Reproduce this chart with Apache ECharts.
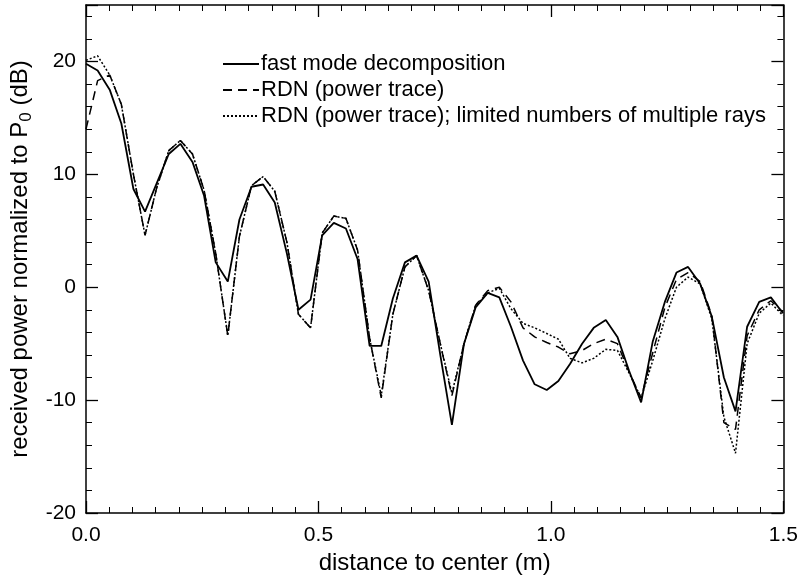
<!DOCTYPE html>
<html>
<head>
<meta charset="utf-8">
<script src="https://cdn.jsdelivr.net/npm/echarts@6/dist/echarts.min.js"></script>
<style>
  html, body {margin: 0; padding: 0; background: #fff;}
  #chart {width: 801px; height: 580px;}
</style>
</head>
<body>
<div id="chart"></div>
<script>
// sample positions along the distance axis (m)
const distance = [0, 0.025, 0.051, 0.076, 0.102, 0.127, 0.152, 0.178, 0.203, 0.229,
  0.254, 0.279, 0.305, 0.330, 0.356, 0.381, 0.406, 0.432, 0.457, 0.483,
  0.508, 0.533, 0.559, 0.584, 0.610, 0.635, 0.660, 0.686, 0.711, 0.737,
  0.762, 0.787, 0.813, 0.838, 0.864, 0.889, 0.914, 0.940, 0.965, 0.991,
  1.016, 1.041, 1.067, 1.092, 1.118, 1.143, 1.168, 1.194, 1.219, 1.245,
  1.270, 1.295, 1.321, 1.346, 1.372, 1.397, 1.422, 1.448, 1.473, 1.499]

// received power (dB)
const fastMode = [19.8, 19.2, 17.5, 14.5, 8.7, 6.7, 9.2, 11.8, 12.7, 11.1,
  8.1, 2.2, 0.5, 6.0, 8.9, 9.1, 7.5, 3.0, -2.0, -1.1,
  4.6, 5.7, 5.2, 2.5, -5.2, -5.2, -1.0, 2.2, 2.8, 0.5,
  -6.0, -12.2, -5.0, -1.8, -0.5, -0.9, -3.5, -6.5, -8.6, -9.1,
  -8.3, -6.8, -5.0, -3.6, -2.9, -4.4, -7.4, -10.2, -4.8, -1.3,
  1.3, 1.8, 0.3, -2.6, -8.0, -11.0, -3.5, -1.3, -0.9, -2.3]

const rdnPower = [14.0, 18.3, 18.8, 16.2, 10.0, 4.6, 8.8, 12.1, 13.0, 11.8,
  8.6, 3.0, -4.3, 4.5, 9.0, 9.8, 8.5, 4.0, -2.4, -3.6,
  4.8, 6.3, 6.1, 3.3, -4.5, -9.8, -2.4, 1.8, 2.8, -0.3,
  -5.0, -9.6, -5.0, -1.6, -0.3, 0.0, -1.3, -3.6, -4.4, -4.9,
  -5.3, -5.9, -5.6, -5.0, -4.6, -5.0, -7.5, -9.8, -5.8, -1.8,
  0.7, 1.3, 0.5, -2.5, -12.0, -12.6, -4.3, -2.0, -1.2, -2.2]

const rdnLimited = [20.1, 20.5, 18.8, 16.2, 10.0, 4.6, 8.8, 12.1, 13.0, 11.8,
  8.6, 3.0, -4.3, 4.5, 9.0, 9.8, 8.5, 4.0, -2.4, -3.6,
  4.8, 6.3, 6.1, 3.3, -4.5, -9.6, -2.4, 1.8, 2.8, -0.3,
  -5.0, -9.4, -5.0, -1.6, -0.5, -0.1, -1.9, -3.2, -3.6, -4.1,
  -4.6, -6.3, -6.7, -6.3, -5.5, -5.6, -7.6, -9.8, -6.5, -2.8,
  0.0, 0.9, 0.3, -2.8, -11.5, -14.7, -5.0, -2.3, -1.4, -2.5]

const seriesNames = ['fast mode decomposition', 'RDN (power trace)',
  'RDN (power trace); limited numbers of multiple rays']

const font = 'Liberation Sans'
const pairs = (ys) => distance.map((d, i) => [d, ys[i]])

const tickBits = {
  axisLine: {show: true, onZero: false, lineStyle: {color: '#000', width: 1.5}},
  axisTick: {show: true, inside: true, length: 12, lineStyle: {color: '#000', width: 1.3}},
  minorTick: {show: true, length: 6, lineStyle: {color: '#000', width: 1}},
  splitLine: {show: false}
}

const myChart = echarts.init(document.getElementById('chart'))
myChart.setOption({
  backgroundColor: '#fff',
  animation: false,
  grid: {left: 86, right: 13, top: 5, bottom: 67},
  legend: {
    left: 217, top: 48, orient: 'vertical',
    itemWidth: 36, itemHeight: 14, itemGap: 4,
    itemStyle: {opacity: 0},
    textStyle: {fontFamily: font, fontSize: 22, color: '#000', padding: [0, 0, 0, -3]},
    data: seriesNames
  },
  xAxis: [
    Object.assign({
      type: 'value', min: 0, max: 1.5, interval: 0.5,
      name: 'distance to center (m)', nameLocation: 'middle', nameGap: 36,
      nameTextStyle: {fontFamily: font, fontSize: 24, color: '#000'},
      axisLabel: {fontFamily: font, fontSize: 21, color: '#000', margin: 12,
        formatter: (v) => v.toFixed(1)}
    }, tickBits, {minorTick: Object.assign({}, tickBits.minorTick, {splitNumber: 10})}),
    Object.assign({
      type: 'value', min: 0, max: 1.5, interval: 0.5, position: 'top',
      axisLabel: {show: false}
    }, tickBits, {minorTick: Object.assign({}, tickBits.minorTick, {splitNumber: 10})})
  ],
  yAxis: [
    Object.assign({
      type: 'value', min: -20, max: 25, interval: 10,
      name: '{t|received power normalized to P}{s|0}{t| (dB)}',
      nameLocation: 'middle', nameGap: 46,
      nameTextStyle: {
        rich: {
          t: {fontFamily: font, fontSize: 24, color: '#000'},
          s: {fontFamily: font, fontSize: 17, color: '#000', padding: [12, 0, 0, 0]}
        }
      },
      axisLabel: {fontFamily: font, fontSize: 21, color: '#000', margin: 10, showMaxLabel: false}
    }, tickBits, {minorTick: Object.assign({}, tickBits.minorTick, {splitNumber: 5})}),
    Object.assign({
      type: 'value', min: -20, max: 25, interval: 10, position: 'right',
      axisLabel: {show: false}
    }, tickBits, {minorTick: Object.assign({}, tickBits.minorTick, {splitNumber: 5})})
  ],
  series: [
    {
      name: seriesNames[0], type: 'line', data: pairs(fastMode),
      symbol: 'none', lineStyle: {color: '#000', width: 1.8, type: 'solid'},
      itemStyle: {color: '#000'}
    },
    {
      name: seriesNames[1], type: 'line', data: pairs(rdnPower),
      symbol: 'none', lineStyle: {color: '#000', width: 1.5, type: [9, 6]},
      itemStyle: {color: '#000'}
    },
    {
      name: seriesNames[2], type: 'line', data: pairs(rdnLimited),
      symbol: 'none', lineStyle: {color: '#000', width: 1.5, type: [2, 2]},
      itemStyle: {color: '#000'}
    }
  ]
})
</script>
</body>
</html>
